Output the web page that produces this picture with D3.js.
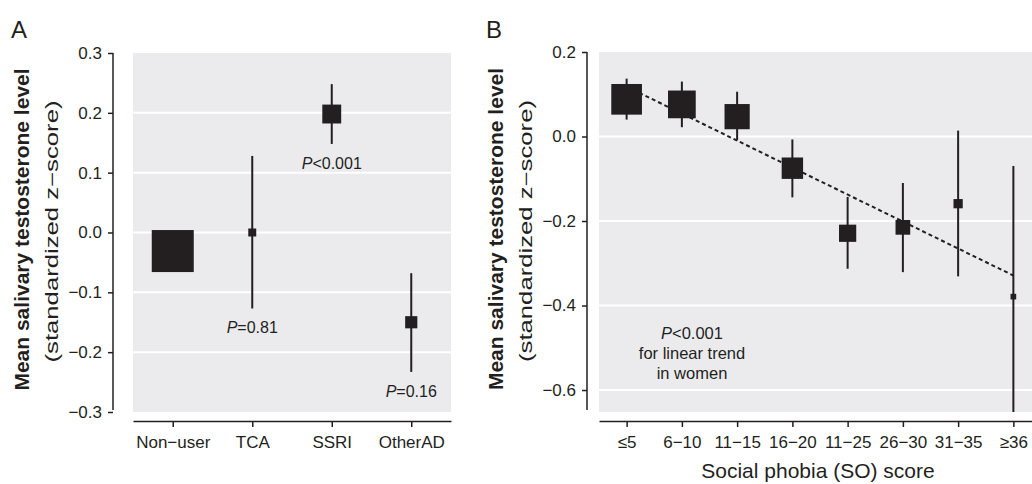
<!DOCTYPE html>
<html>
<head>
<meta charset="utf-8">
<script src="https://cdn.jsdelivr.net/npm/d3@7"></script>
<style>
  body { margin: 0; background: #fff; }
  text { font-family: "Liberation Sans", Arial, Helvetica, sans-serif; fill: #231f20; }
</style>
</head>
<body>
<svg id="chart" width="1032" height="484"></svg>
<script>
// Panel A data: antidepressant groups
const groupsA = ["Non\u2212user", "TCA", "SSRI", "OtherAD"];
const meanA = [-0.031, 0.0, 0.198, -0.15];
const lowA = [-0.031, -0.127, 0.148, -0.233];
const highA = [-0.031, 0.128, 0.248, -0.068];
const weightA = [1.0, 0.19, 0.45, 0.29];
const pLabelsA = [null, "=0.81", "<0.001", "=0.16"];

// Panel B data: social phobia score groups
const groupsB = ["\u22645", "6\u221210", "11\u221215", "16\u221220", "11\u221225", "26\u221230", "31\u221235", "\u226536"];
const meanB = [0.088, 0.076, 0.047, -0.075, -0.229, -0.215, -0.159, -0.379];
const lowB = [0.040, 0.022, -0.009, -0.144, -0.313, -0.321, -0.331, -0.70];
const highB = [0.137, 0.130, 0.106, -0.007, -0.143, -0.110, 0.014, -0.070];
const weightB = [0.73, 0.66, 0.60, 0.51, 0.41, 0.35, 0.22, 0.135];
const trendB = [0.118, -0.329]; // fitted linear trend at first and last group

const ticksA = [-0.3, -0.2, -0.1, 0.0, 0.1, 0.2, 0.3];
const ticksB = [-0.6, -0.4, -0.2, 0.0, 0.2];

const INK = "#231f20";
const PANEL_BG = "#ebebee";
const FONT = "Liberation Sans, Arial, sans-serif";
const svg = d3.select("#chart");

// square side in px from relative weight
const sizeScale = d3.scaleLinear().domain([0, 1]).range([0, 42]);

/*
 * Draws one forest-style panel: gray background, white grid, CI lines, squares.
 */
function drawPanel(opt) {
  const g = svg.append("g");
  const {x, y, ticks, yTop, yBottom, axisX} = opt;
  const [x0, x1] = x.range();

  const clipId = "clip" + opt.id;
  g.append("clipPath").attr("id", clipId)
    .append("rect")
    .attr("x", x0).attr("y", y(yTop))
    .attr("width", x1 - x0).attr("height", y(yBottom) - y(yTop));

  g.append("rect")
    .attr("x", x0).attr("y", y(yTop))
    .attr("width", x1 - x0).attr("height", y(yBottom) - y(yTop))
    .style("fill", PANEL_BG);

  // white grid lines (not at the panel edges)
  g.selectAll(".grid")
    .data(ticks.filter(t => t > yBottom + 1e-9 && t < yTop - 1e-9))
    .enter().append("line")
    .attr("x1", x0).attr("x2", x1)
    .attr("y1", d => y(d)).attr("y2", d => y(d))
    .style("stroke", "#fff").style("stroke-width", 2);

  const marks = g.append("g").attr("clip-path", `url(#${clipId})`);

  // confidence intervals
  marks.selectAll(".ci")
    .data(opt.groups)
    .enter().append("line")
    .attr("x1", d => x(d)).attr("x2", d => x(d))
    .attr("y1", (d, i) => y(opt.high[i]))
    .attr("y2", (d, i) => y(opt.low[i]))
    .style("stroke", INK).style("stroke-width", 2);

  if (opt.trend) {
    const n = opt.groups.length;
    marks.append("line")
      .attr("x1", x(opt.groups[0])).attr("y1", y(opt.trend[0]))
      .attr("x2", x(opt.groups[n - 1])).attr("y2", y(opt.trend[1]))
      .style("stroke", INK).style("stroke-width", 2)
      .style("stroke-dasharray", "4 3");
  }

  // squares
  marks.selectAll(".sq")
    .data(opt.groups)
    .enter().append("rect")
    .attr("x", (d, i) => x(d) - sizeScale(opt.weight[i]) / 2)
    .attr("y", (d, i) => y(opt.mean[i]) - sizeScale(opt.weight[i]) / 2)
    .attr("width", (d, i) => sizeScale(opt.weight[i]))
    .attr("height", (d, i) => sizeScale(opt.weight[i]))
    .style("fill", INK);

  // y axis
  const yAxis = g.append("g")
    .attr("transform", `translate(${axisX},0)`)
    .call(d3.axisLeft(y).tickValues(ticks).tickFormat(d3.format(".1f"))
      .tickSize(5).tickPadding(6).tickSizeOuter(0));
  yAxis.select(".domain").attr("d", `M0,${y(yTop)}V${y(yBottom) - 2}`)
    .style("stroke", INK).style("stroke-width", 1.5);
  yAxis.selectAll(".tick line").style("stroke", INK).style("stroke-width", 1.5);
  yAxis.selectAll(".tick text").style("font-size", "17px")
    .style("font-family", FONT).style("fill", INK);

  // x axis
  const xAxis = g.append("g")
    .attr("transform", `translate(0,${opt.xAxisY})`)
    .call(d3.axisBottom(x).tickSize(6).tickPadding(9).tickSizeOuter(0));
  xAxis.select(".domain").style("stroke", INK).style("stroke-width", 1.5);
  xAxis.selectAll(".tick line").style("stroke", INK).style("stroke-width", 1.5);
  xAxis.selectAll(".tick text").style("font-size", "17px")
    .style("font-family", FONT).style("fill", INK);

  // axis title (two lines, rotated)
  const cy = (y(yTop) + y(yBottom)) / 2;
  g.append("text")
    .attr("transform", `translate(${axisX - 84},${cy - 3}) rotate(-90)`)
    .attr("text-anchor", "middle")
    .style("font-size", "21px").style("font-weight", "bold")
    .text("Mean salivary testosterone level");
  g.append("text")
    .attr("transform", `translate(${axisX - 55},${cy - 1}) rotate(-90)`)
    .attr("text-anchor", "middle")
    .attr("textLength", 262).attr("lengthAdjust", "spacingAndGlyphs")
    .style("font-size", "17.5px")
    .text("(standardized z\u2212score)");

  // panel letter
  g.append("text")
    .attr("x", opt.letterX).attr("y", 38)
    .style("font-size", "24px")
    .text(opt.id);

  return g;
}

// ---------- Panel A ----------
const xA = d3.scalePoint().domain(groupsA).range([133, 451]).padding(0.5);
const yA = d3.scaleLinear().domain([-0.3, 0.3]).range([412, 53]);

const gA = drawPanel({
  id: "A", x: xA, y: yA, ticks: ticksA, yTop: 0.3, yBottom: -0.3,
  axisX: 113, xAxisY: 421, letterX: 11,
  groups: groupsA, mean: meanA, low: lowA, high: highA, weight: weightA
});

// P-value labels under each CI
const pText = gA.selectAll(".plab")
  .data(groupsA.filter((d, i) => pLabelsA[i]))
  .enter().append("text")
  .attr("x", d => xA(d))
  .attr("y", d => yA(lowA[groupsA.indexOf(d)]) + 25)
  .attr("text-anchor", "middle")
  .style("font-size", "16px");
pText.append("tspan").style("font-style", "italic").text("P");
pText.append("tspan").text(d => pLabelsA[groupsA.indexOf(d)]);

// ---------- Panel B ----------
const xB = d3.scalePoint().domain(groupsB).range([599, 1041]).padding(0.5);
const yB = d3.scaleLinear().domain([-0.652, 0.2]).range([412, 52]);

const gB = drawPanel({
  id: "B", x: xB, y: yB, ticks: ticksB, yTop: 0.2, yBottom: -0.652,
  axisX: 587, xAxisY: 421, letterX: 486,
  groups: groupsB, mean: meanB, low: lowB, high: highB, weight: weightB,
  trend: trendB
});

gB.append("text")
  .attr("x", 818).attr("y", 478)
  .attr("text-anchor", "middle")
  .style("font-size", "21px")
  .text("Social phobia (SO) score");

const note = gB.append("text")
  .attr("x", 692).attr("y", 339)
  .attr("text-anchor", "middle")
  .style("font-size", "16.5px");
note.append("tspan").style("font-style", "italic").text("P");
note.append("tspan").text("<0.001");
note.append("tspan").attr("x", 692).attr("dy", 20).text("for linear trend");
note.append("tspan").attr("x", 692).attr("dy", 20).text("in women");
</script>
</body>
</html>
